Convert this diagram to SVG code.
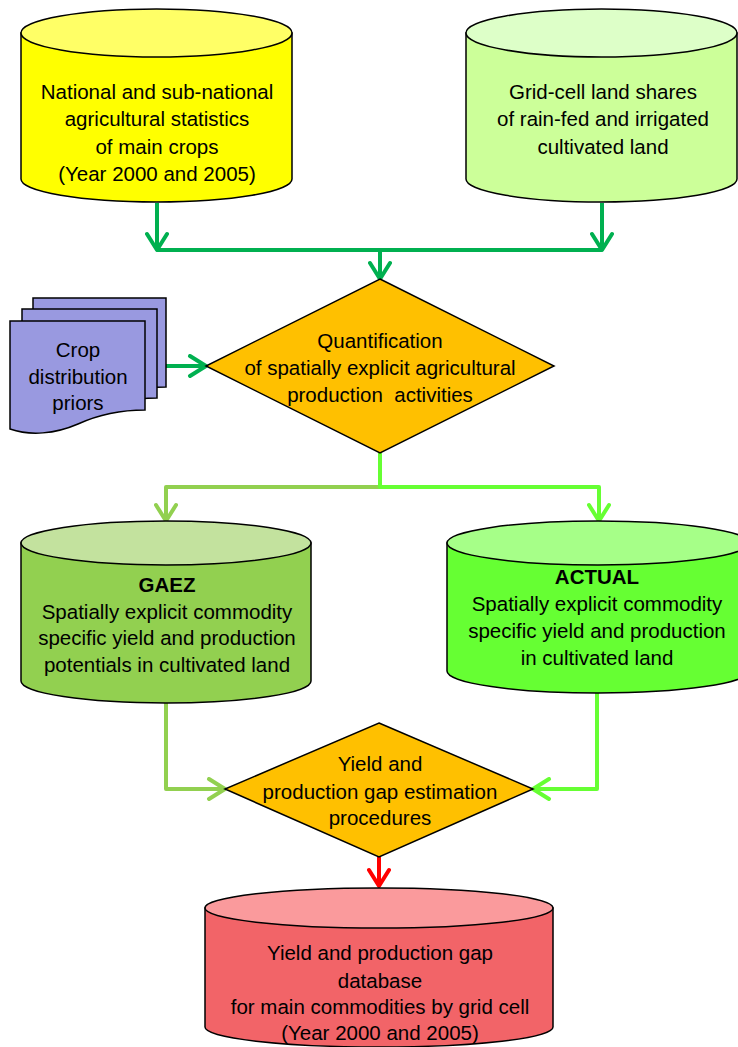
<svg xmlns="http://www.w3.org/2000/svg" width="738" height="1047" viewBox="0 0 738 1047">
<style>
  .shape { stroke: #000; stroke-width: 1.5; }
  .lbl { font-family: "Liberation Sans", Arial, sans-serif; font-size: 20.5px; fill: #000; text-anchor: middle; }
  .b { font-weight: bold; }
  .c { fill: none; stroke-width: 4; stroke-linejoin: round; }
  .dg { stroke: #00B050; }
  .lg { stroke: #92D050; }
  .bg { stroke: #66FF33; }
  .rd { stroke: #FF0000; }
</style>
<defs>
  <marker id="aDG" markerUnits="userSpaceOnUse" markerWidth="24" markerHeight="24" viewBox="0 0 24 24" refX="20" refY="12" orient="auto">
    <path d="M4,2 L20,12 L4,22" fill="none" stroke="#00B050" stroke-width="4" stroke-linecap="round" stroke-linejoin="round"/>
  </marker>
  <marker id="aLG" markerUnits="userSpaceOnUse" markerWidth="24" markerHeight="24" viewBox="0 0 24 24" refX="20" refY="12" orient="auto">
    <path d="M4,2 L20,12 L4,22" fill="none" stroke="#92D050" stroke-width="4" stroke-linecap="round" stroke-linejoin="round"/>
  </marker>
  <marker id="aBG" markerUnits="userSpaceOnUse" markerWidth="24" markerHeight="24" viewBox="0 0 24 24" refX="20" refY="12" orient="auto">
    <path d="M4,2 L20,12 L4,22" fill="none" stroke="#66FF33" stroke-width="4" stroke-linecap="round" stroke-linejoin="round"/>
  </marker>
  <marker id="aRD" markerUnits="userSpaceOnUse" markerWidth="24" markerHeight="24" viewBox="0 0 24 24" refX="20" refY="12" orient="auto">
    <path d="M4,2 L20,12 L4,22" fill="none" stroke="#FF0000" stroke-width="4" stroke-linecap="round" stroke-linejoin="round"/>
  </marker>
</defs>
<rect width="738" height="1047" fill="#FFFFFF"/>

<g id="connectors">
  <path class="c dg" d="M157,203 V250" marker-end="url(#aDG)"/>
  <path class="c dg" d="M602,203 V250" marker-end="url(#aDG)"/>
  <path class="c dg" d="M157,250 H602"/>
  <path class="c dg" d="M380,250 V279" marker-end="url(#aDG)"/>
  <path class="c dg" d="M145,366 H206" marker-end="url(#aDG)"/>
  <path class="c lg" d="M380,487 H166 V521" marker-end="url(#aLG)"/>
  <path class="c bg" d="M380,453 V487 H599 V521" marker-end="url(#aBG)"/>
  <path class="c lg" d="M166,703 V789 H225" marker-end="url(#aLG)"/>
  <path class="c bg" d="M597,693 V789 H533" marker-end="url(#aBG)"/>
  <path class="c rd" d="M379,857 V886" marker-end="url(#aRD)"/>
</g>

<g id="stats">
  <path class="shape" fill="#FFFF00" d="M21,33 V179 A135.5,23 0 0 0 292,179 V33 Z"/>
  <ellipse class="shape" cx="156.5" cy="33" rx="135.5" ry="24" fill="#FFFF66"/>
  <text class="lbl" x="157" y="99">National and sub-national</text>
  <text class="lbl" x="157" y="126">agricultural statistics</text>
  <text class="lbl" x="157" y="154">of main crops</text>
  <text class="lbl" x="157" y="181">(Year 2000 and 2005)</text>
</g>

<g id="landshares">
  <path class="shape" fill="#CCFF99" d="M466,33 V179 A135.5,23 0 0 0 737,179 V33 Z"/>
  <ellipse class="shape" cx="601.5" cy="33" rx="135.5" ry="24" fill="#DDFFC8"/>
  <text class="lbl" x="603" y="99">Grid-cell land shares</text>
  <text class="lbl" x="603" y="126">of rain-fed and irrigated</text>
  <text class="lbl" x="603" y="154">cultivated land</text>
</g>

<g id="priors">
  <path class="shape" fill="#9999E0" d="M33,298 H166 V387 C146,387 121,391 101,401 C78,411 53,413 33,406 Z"/>
  <path class="shape" fill="#9999E0" d="M22,309 H157 V398 C136,398 112,402 90,412 C67,422 42,424 22,417 Z"/>
  <path class="shape" fill="#9999E0" d="M10,321 H145 V410 C125,410 100,414 78,424 C55,434 30,436 10,429 Z"/>
  <text class="lbl" x="78" y="357">Crop</text>
  <text class="lbl" x="78" y="384">distribution</text>
  <text class="lbl" x="78" y="410">priors</text>
</g>

<g id="quantification">
  <polygon class="shape" fill="#FFC000" points="380,279 554,366 380,453 206,366"/>
  <text class="lbl" x="380" y="348">Quantification</text>
  <text class="lbl" x="380" y="375">of spatially explicit agricultural</text>
  <text class="lbl" x="380" y="402" xml:space="preserve">production  activities</text>
</g>

<g id="gaez">
  <path class="shape" fill="#92D050" d="M21,543 V681 A145,22 0 0 0 311,681 V543 Z"/>
  <ellipse class="shape" cx="166" cy="543" rx="145" ry="22" fill="#C3E29E"/>
  <text class="lbl b" x="167" y="592">GAEZ</text>
  <text class="lbl" x="167" y="619">Spatially explicit commodity</text>
  <text class="lbl" x="167" y="645">specific yield and production</text>
  <text class="lbl" x="167" y="672">potentials in cultivated land</text>
</g>

<g id="actual">
  <path class="shape" fill="#66FF33" d="M447,543 V671 A151,22 0 0 0 749,671 V543 Z"/>
  <ellipse class="shape" cx="598" cy="543" rx="151" ry="22" fill="#A6FF88"/>
  <text class="lbl b" x="597" y="584">ACTUAL</text>
  <text class="lbl" x="597" y="611">Spatially explicit commodity</text>
  <text class="lbl" x="597" y="638">specific yield and production</text>
  <text class="lbl" x="597" y="665">in cultivated land</text>
</g>

<g id="gapestimation">
  <polygon class="shape" fill="#FFC000" points="379,723 533,789 379,857 225,789"/>
  <text class="lbl" x="380" y="771">Yield and</text>
  <text class="lbl" x="380" y="799">production gap estimation</text>
  <text class="lbl" x="380" y="825">procedures</text>
</g>

<g id="database">
  <path class="shape" fill="#F26468" d="M205,908 V1027 A174,20 0 0 0 553,1027 V908 Z"/>
  <ellipse class="shape" cx="379" cy="908" rx="174" ry="20" fill="#FA9A9C"/>
  <text class="lbl" x="380" y="960">Yield and production gap</text>
  <text class="lbl" x="380" y="988">database</text>
  <text class="lbl" x="380" y="1014">for main commodities by grid cell</text>
  <text class="lbl" x="380" y="1040">(Year 2000 and 2005)</text>
</g>
</svg>
